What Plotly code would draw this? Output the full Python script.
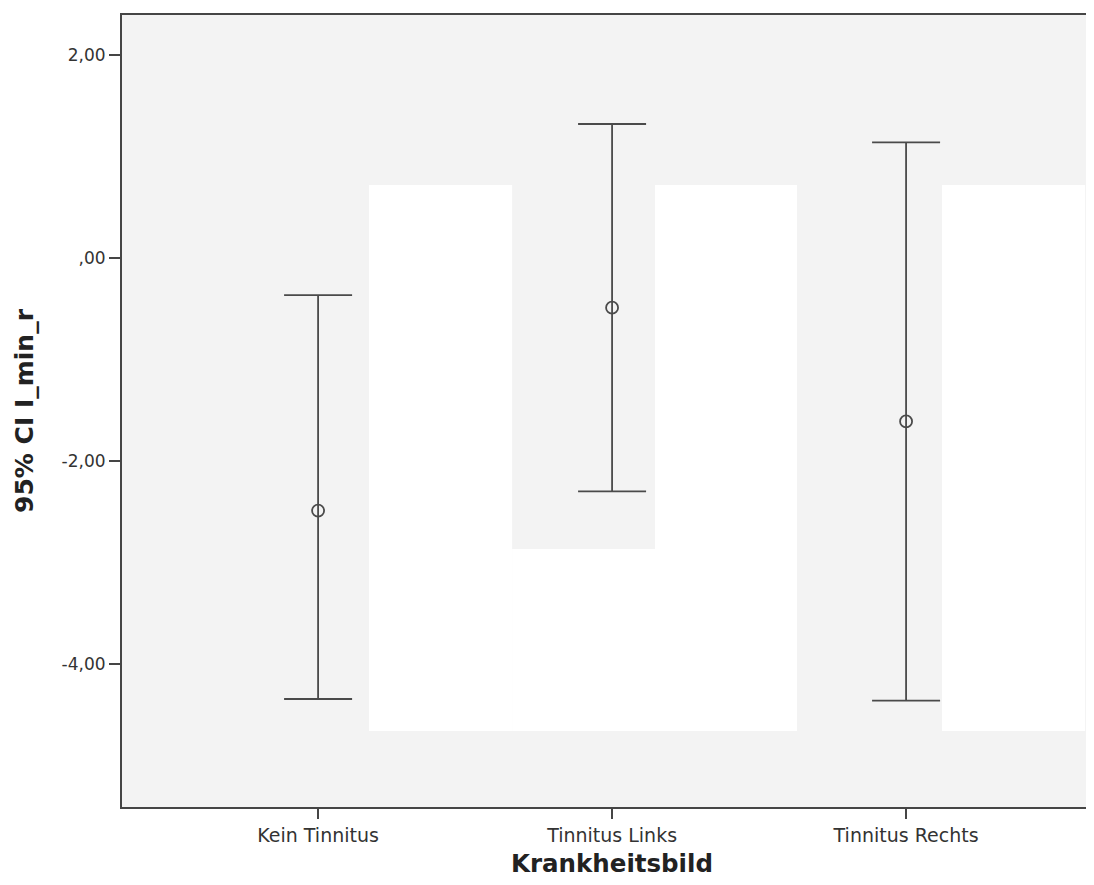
import plotly.graph_objects as go

categories = ["Kein Tinnitus", "Tinnitus Links", "Tinnitus Rechts"]
means = [-2.49, -0.49, -1.61]
ci_upper = [-0.365, 1.32, 1.14]
ci_lower = [-4.345, -2.30, -4.36]

y_tickvals = [2, 0, -2, -4]
y_ticktext = ["2,00", ",00", "-2,00", "-4,00"]

x_title = "Krankheitsbild"
y_title = "95% CI I_min_r"

# white rectangular patches visible in the reference (x in category units, y in value units)
patches = [
    (0.173, 0.660, -4.66, 0.719),
    (0.660, 1.146, -4.66, -2.867),
    (1.146, 1.629, -4.66, 0.719),
    (2.122, 2.609, -4.66, 0.719),
]

x_idx = list(range(len(categories)))
err_plus = [u - m for u, m in zip(ci_upper, means)]
err_minus = [m - l for m, l in zip(means, ci_lower)]

line_col = "#4a4a4a"

fig = go.Figure()
fig.add_trace(go.Scatter(
    x=x_idx, y=means, mode="markers",
    marker=dict(symbol="circle-open", size=12, color=line_col, line=dict(width=1.8, color=line_col)),
    error_y=dict(type="data", symmetric=False, array=err_plus, arrayminus=err_minus,
                 color=line_col, thickness=1.8, width=34),
    showlegend=False, hoverinfo="skip",
))

for x0, x1, y0, y1 in patches:
    fig.add_shape(type="rect", xref="x", yref="y", x0=x0, x1=x1, y0=y0, y1=y1,
                  fillcolor="white", line=dict(width=0), layer="below")

fig.add_annotation(
    text="<b>" + x_title + "</b>", xref="x", x=1, yref="paper", y=-0.0715,
    xanchor="center", yanchor="middle", showarrow=False,
    font=dict(size=24.5, color="#222222", family="DejaVu Sans"),
)

fig.update_layout(
    width=1078, height=869,
    margin=dict(l=114, r=0, t=7, b=70),
    paper_bgcolor="white", plot_bgcolor="#f3f3f3",
    font=dict(family="DejaVu Sans", color="#333333"),
    xaxis=dict(
        range=[-0.667, 2.612], tickvals=x_idx, ticktext=categories,
        showgrid=False, zeroline=False, showline=True, mirror=True,
        linecolor="#454545", linewidth=2, ticks="outside", ticklen=10, tickwidth=2,
        tickcolor="#454545", tickfont=dict(size=19, color="#333333"),
    ),
    yaxis=dict(
        range=[-5.409, 2.394], tickvals=y_tickvals, ticktext=y_ticktext,
        showgrid=False, zeroline=False, showline=True,
        linecolor="#454545", linewidth=2, ticks="outside", ticklen=11, tickwidth=2,
        tickcolor="#454545", tickfont=dict(size=17, color="#333333"),
        title=dict(text="<b>" + y_title + "</b>", font=dict(size=25, color="#222222"), standoff=21),
    ),
)

fig.write_html("out.html")
